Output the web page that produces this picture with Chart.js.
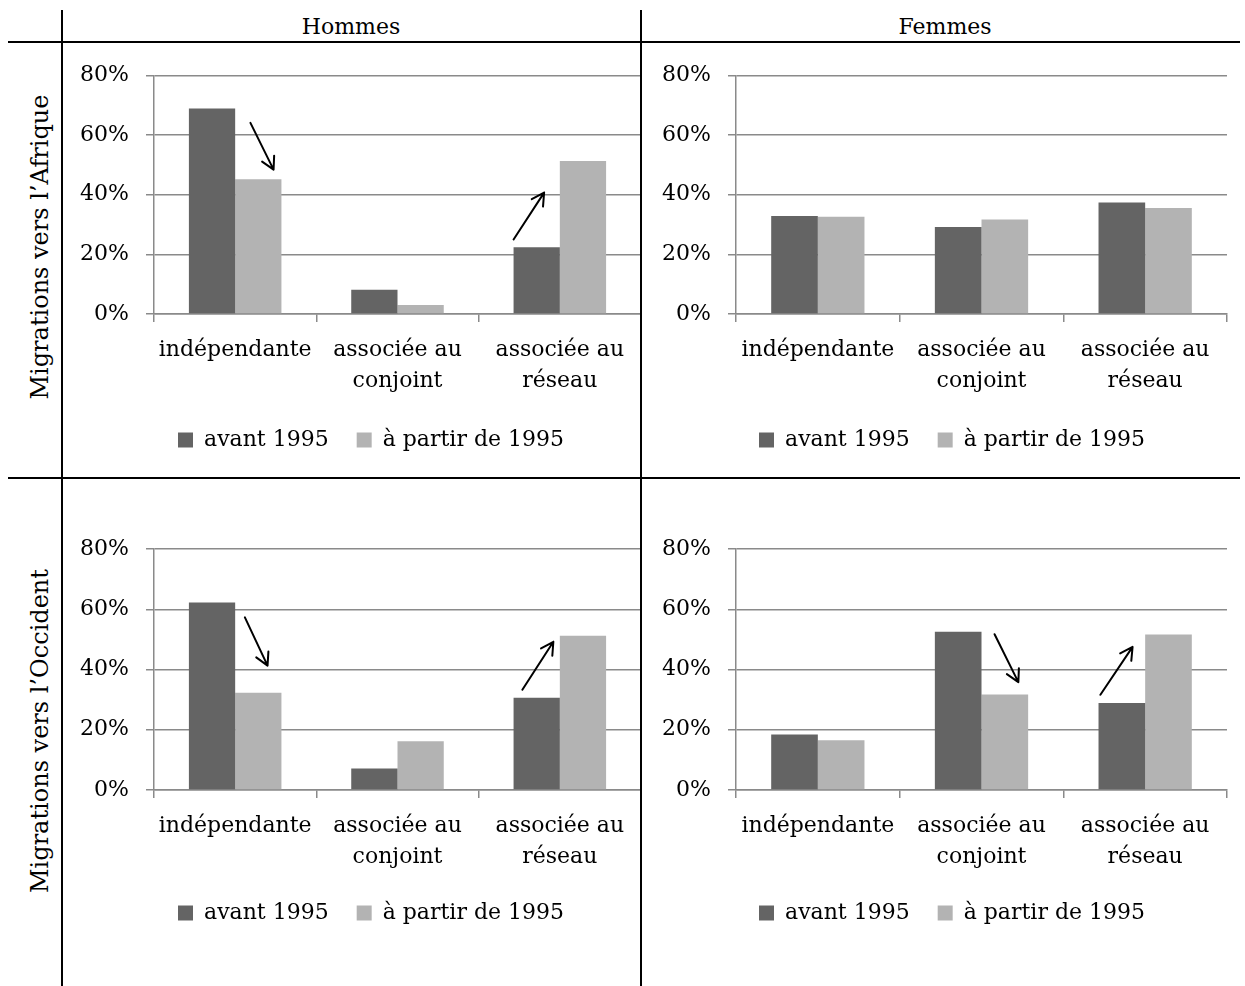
<!DOCTYPE html>
<html>
<head>
<meta charset="utf-8">
<script src="https://cdn.jsdelivr.net/npm/chart.js@4.4.1/dist/chart.umd.min.js"></script>
<style>
  html, body { margin: 0; padding: 0; background: #fff; }
  #page { position: relative; width: 1245px; height: 986px; overflow: hidden; font-family: "DejaVu Serif", serif; color: #000; }
  .ln { position: absolute; background: #000; }
  .head { position: absolute; top: 13px; font-size: 22px; line-height: 28px; transform: translateX(-50%); white-space: nowrap; }
  .rowlab { position: absolute; font-size: 24px; line-height: 28px; white-space: nowrap; transform: translate(-50%, -50%) rotate(-90deg); }
  .cell { position: absolute; }
</style>
</head>
<body>
<div id="page">
  <div class="cell" style="left:63px;top:43px;width:578px;height:434px"><canvas id="cAH"></canvas></div>
  <div class="cell" style="left:643px;top:43px;width:602px;height:434px"><canvas id="cAF"></canvas></div>
  <div class="cell" style="left:63px;top:479px;width:578px;height:507px"><canvas id="cOH"></canvas></div>
  <div class="cell" style="left:643px;top:479px;width:602px;height:507px"><canvas id="cOF"></canvas></div>

  <div class="ln" style="left:61px;top:10px;width:2px;height:976px"></div>
  <div class="ln" style="left:640px;top:10px;width:2px;height:976px"></div>
  <div class="ln" style="left:8px;top:41px;width:1232px;height:2px"></div>
  <div class="ln" style="left:8px;top:477px;width:1232px;height:2px"></div>

  <div class="head" style="left:351px">Hommes</div>
  <div class="head" style="left:945px">Femmes</div>
  <div class="rowlab" style="left:40px;top:247px">Migrations vers l’Afrique</div>
  <div class="rowlab" style="left:40px;top:731px">Migrations vers l’Occident</div>
</div>

<script>
"use strict";

// ── données (en %) ──────────────────────────────────────────
const categories = [["indépendante"], ["associée au", "conjoint"], ["associée au", "réseau"]];
const seriesNames = ["avant 1995", "à partir de 1995"];
const yTickStep = 20;
const yMax = 80;

const afriqueHommesAvant = [68.9, 8.1, 22.4];
const afriqueHommesApres = [45.2, 3.0, 51.3];
const afriqueFemmesAvant = [32.9, 29.2, 37.4];
const afriqueFemmesApres = [32.6, 31.7, 35.5];
const occidentHommesAvant = [62.2, 7.1, 30.6];
const occidentHommesApres = [32.3, 16.2, 51.2];
const occidentFemmesAvant = [18.4, 52.5, 28.9];
const occidentFemmesApres = [16.5, 31.7, 51.6];

// flèches : catégorie, décalage en largeurs de barre, valeurs de départ / arrivée
const arrowsAH = [
  { cat: 0, x0: 0.33, v0: 64.1, x1: 0.83, v1: 48.4 },
  { cat: 2, x0: -1.0, v0: 25.0, x1: -0.34, v1: 40.7 },
];
const arrowsOH = [
  { cat: 0, x0: 0.21, v0: 57.3, x1: 0.70, v1: 41.3 },
  { cat: 2, x0: -0.81, v0: 33.3, x1: -0.14, v1: 49.2 },
];
const arrowsOF = [
  { cat: 1, x0: 0.28, v0: 51.7, x1: 0.79, v1: 35.8 },
  { cat: 2, x0: -0.96, v0: 31.6, x1: -0.27, v1: 47.5 },
];

const DARK = "#646464";
const LIGHT = "#b3b3b3";
const GRID = "#8a8a8a";
const FONT = { family: "'DejaVu Serif', serif", size: 22, lineHeight: 1.4 };

// ── flèches dessinées à travers les échelles ────────────────
const arrowPlugin = (list) => ({
  id: "arrows",
  afterDatasetsDraw(chart) {
    const { ctx, scales: { x, y } } = chart;
    const w = chart.getDatasetMeta(0).data[0].width;
    ctx.save();
    ctx.strokeStyle = "#000";
    ctx.lineWidth = 2;
    ctx.lineCap = "round";
    ctx.lineJoin = "round";
    list.forEach((a) => {
      const cx = x.getPixelForValue(a.cat);
      const x0 = cx + a.x0 * w, y0 = y.getPixelForValue(a.v0);
      const x1 = cx + a.x1 * w, y1 = y.getPixelForValue(a.v1);
      const ang = Math.atan2(y1 - y0, x1 - x0);
      const h = 14, spread = 0.5;
      ctx.beginPath();
      ctx.moveTo(x0, y0);
      ctx.lineTo(x1, y1);
      ctx.moveTo(x1 - h * Math.cos(ang - spread), y1 - h * Math.sin(ang - spread));
      ctx.lineTo(x1, y1);
      ctx.lineTo(x1 - h * Math.cos(ang + spread), y1 - h * Math.sin(ang + spread));
      ctx.stroke();
    });
    ctx.restore();
  },
});

// décale la légende horizontalement (centrée comme dans la figure)
const legendShift = (dx) => ({
  id: "legendShift",
  afterLayout(chart) {
    if (!chart.legend) return;
    chart.legend.left += dx;
    chart.legend.right += dx;
  },
});

function barChart(id, avant, apres, arrows, lay) {
  return new Chart(document.getElementById(id), {
    type: "bar",
    data: {
      labels: categories,
      datasets: [
        { label: seriesNames[0], data: avant, backgroundColor: DARK },
        { label: seriesNames[1], data: apres, backgroundColor: LIGHT },
      ],
    },
    options: {
      responsive: true,
      maintainAspectRatio: false,
      animation: false,
      datasets: { bar: { categoryPercentage: 0.57, barPercentage: 1.0 } },
      layout: { padding: { left: 0, right: lay.padR, top: lay.padT, bottom: lay.padB } },
      plugins: {
        legend: {
          position: "bottom",
          labels: { font: FONT, color: "#000", boxWidth: 15, boxHeight: 15, padding: 28 },
        },
        tooltip: { enabled: false },
      },
      scales: {
        x: {
          grid: { display: true, offset: true, drawOnChartArea: false, tickLength: 8, color: GRID, lineWidth: 1.5 },
          border: { color: GRID, width: 1.5 },
          ticks: { font: FONT, color: "#000", padding: 13, maxRotation: 0, autoSkip: false },
          afterFit: (s) => { s.height = lay.xH; },
        },
        y: {
          min: 0,
          max: yMax,
          ticks: { stepSize: yTickStep, callback: (v) => v + "%", font: FONT, color: "#000", padding: 17 },
          grid: { color: GRID, lineWidth: 1.5, tickLength: 8 },
          border: { color: GRID, width: 1.5 },
          afterFit: (s) => { s.width = lay.yW; },
        },
      },
    },
    plugins: [arrowPlugin(arrows), legendShift(lay.legDx)],
  });
}

const layLeftTop = { yW: 91, padR: 0, padT: 29, padB: 16, xH: 87, legDx: 19 };
const layRightTop = { yW: 93, padR: 18, padT: 29, padB: 16, xH: 87, legDx: 17 };
const layLeftBot = { yW: 91, padR: 0, padT: 70, padB: 52, xH: 84, legDx: 19 };
const layRightBot = { yW: 93, padR: 18, padT: 70, padB: 52, xH: 84, legDx: 17 };

barChart("cAH", afriqueHommesAvant, afriqueHommesApres, arrowsAH, layLeftTop);
barChart("cAF", afriqueFemmesAvant, afriqueFemmesApres, [], layRightTop);
barChart("cOH", occidentHommesAvant, occidentHommesApres, arrowsOH, layLeftBot);
barChart("cOF", occidentFemmesAvant, occidentFemmesApres, arrowsOF, layRightBot);
</script>
</body>
</html>
